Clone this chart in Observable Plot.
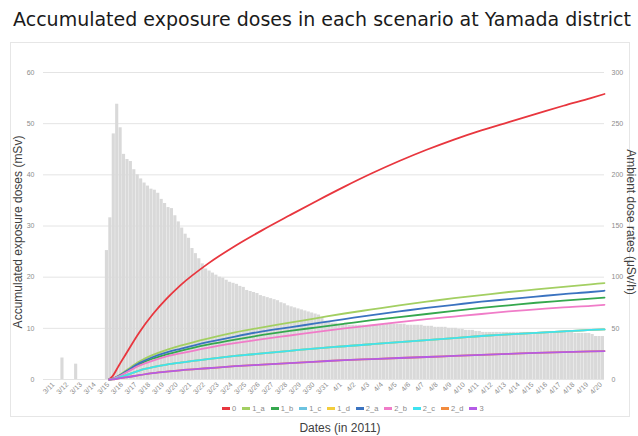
<!DOCTYPE html>
<html><head><meta charset="utf-8">
<script src="https://cdn.jsdelivr.net/npm/d3@7"></script>
<script src="https://cdn.jsdelivr.net/npm/@observablehq/plot@0.6"></script>
<style>
body{margin:0;background:#fff;font-family:"Liberation Sans",Arial,sans-serif;}
#wrap{position:relative;width:638px;height:436px;overflow:hidden}
#title{position:absolute;left:0;top:8px;width:644px;text-align:center;font:19px "DejaVu Sans";color:#1a1a1a;white-space:nowrap}
#panel{position:absolute;left:10px;top:42px;width:620px;height:375px;border:1px solid #e6e6e6;box-sizing:border-box}
#chart{position:absolute;left:0;top:40px}
.ylab{position:absolute;white-space:nowrap;font-size:12px;color:#404040}
#legend{position:absolute;left:222px;top:404px;display:flex;align-items:center;font-size:7.5px;color:#8a8a8a}
#legend .it{display:flex;align-items:center;margin-right:6px}
#legend .sw{display:inline-block;width:8px;height:2.5px;margin-right:2px}
#xlab{position:absolute;left:0;width:680px;text-align:center;top:421px;font-size:12px;color:#404040}
</style></head>
<body><div id="wrap">
<div id="title">Accumulated exposure doses in each scenario at Yamada district</div>
<div id="panel"></div>
<div id="chart"></div>
<div class="ylab" style="left:18px;top:232px;transform:translate(-50%,-50%) rotate(-90deg)">Accumulated exposure doses (mSv)</div>
<div class="ylab" style="left:631px;top:222px;transform:translate(-50%,-50%) rotate(90deg)">Ambient dose rates (μSv/h)</div>
<div id="legend"></div>
<div id="xlab">Dates (in 2011)</div>
</div>
<script>
// ---- data ----
const startDate = Date.UTC(2011, 2, 11);        // 3/11 00:00
const endDate = Date.UTC(2011, 3, 21);          // end of 4/20
const doseTicks = [0, 10, 20, 30, 40, 50, 60];
const rateTicks = [0, 50, 100, 150, 200, 250, 300];
const doseMax = 60, rateMax = 300;

// ambient dose rate (uSv/h), 6-hourly blocks from 3/11 00:00
const rateStepHours = 6;
const rates = [
  0,0,0,0,  0,21,0,0,  0,15,0,0,  0,0,0,0,  0,0,126,158,
  240,269,246,220,  215,213,205,200,  196,192,189,186,  185,182,176,172,
  168,167,160,154,  148,142,138,128,  123,118,113,108,  106,104,102,100,
  99,97,95,94,  93,91,90,87,  86,85,84,82,  81,80,79,78,
  77,75,74,72,  71,70,69,68,  67,66,65,64,  63,60,57,56,
  55,55,54,54,  54,53,53,53,  53,53,53,53,  53,53,53,53,
  54,54,54,54,  54,54,53,53,  53,53,53,52,  52,52,51,51,
  51,51,50,50,  50,49,49,48,  48,48,47,47,  46,46,46,46,
  46,46,46,46,  46,46,46,46,  46,46,46,46,  46,46,46,46,
  46,46,46,46,  46,46,46,45,  45,45,45,45,  44,42,42,42
];

// accumulated doses (mSv), days since 3/11 00:00
const doseDays = [4.8,5,5.5,6,7,8,9,10,12,14,16,18,20,22,24,26,28,30,32,34,36,38,40,41];
const scenarioNames = ["0","1_a","1_b","1_c","1_d","2_a","2_b","2_c","2_d","3"];
const scenarioColors = ["#e8363e","#a3cf62","#35a84e","#6cc3e0","#f3cd3c","#3b73c0","#f07cc8","#3ee2f0","#f28b3d","#b45be6"];
const dose0  = [0,0.5,2.7,4.9,9.2,12.8,15.8,18.4,22.6,26.1,29.2,32.1,34.95,37.7,40.3,42.7,44.9,46.9,48.7,50.3,51.9,53.5,55.0,55.8];
const dose1a = [0,0.1,0.8,1.7,3.5,4.8,5.8,6.6,8.0,9.2,10.2,11.1,12.0,12.9,13.7,14.5,15.2,15.9,16.5,17.1,17.6,18.1,18.6,18.85];
const dose1b = [0,0.1,0.6,1.4,3.0,4.1,4.9,5.6,6.8,7.8,8.7,9.5,10.2,10.9,11.6,12.2,12.8,13.4,14.0,14.5,15.0,15.4,15.8,16.0];
const dose1c = [0,0.05,0.4,0.8,1.75,2.4,2.9,3.3,4.0,4.6,5.1,5.6,6.1,6.5,6.9,7.3,7.7,8.1,8.5,8.8,9.1,9.4,9.7,9.8];
const dose1d = [0,0.05,0.4,0.8,1.75,2.4,2.9,3.3,4.0,4.6,5.1,5.6,6.1,6.5,6.9,7.3,7.7,8.1,8.5,8.8,9.1,9.4,9.7,9.8];
const dose2a = [0,0.1,0.7,1.5,3.2,4.4,5.3,6.0,7.3,8.4,9.4,10.2,11.0,11.8,12.6,13.3,14.0,14.6,15.2,15.7,16.2,16.7,17.1,17.35];
const dose2b = [0,0.1,0.6,1.3,2.7,3.7,4.5,5.1,6.2,7.1,7.9,8.6,9.3,10.0,10.6,11.2,11.8,12.3,12.8,13.3,13.7,14.1,14.4,14.6];
const dose2c = [0,0.05,0.4,0.8,1.75,2.4,2.9,3.3,4.0,4.6,5.1,5.6,6.1,6.5,6.9,7.3,7.7,8.1,8.5,8.8,9.1,9.4,9.7,9.8];
const dose2d = [0,0.02,0.2,0.4,0.85,1.25,1.55,1.8,2.2,2.6,2.9,3.2,3.5,3.8,4.0,4.2,4.4,4.6,4.8,5.0,5.2,5.35,5.5,5.55];
const dose3  = [0,0.02,0.2,0.4,0.85,1.25,1.55,1.8,2.2,2.6,2.9,3.2,3.5,3.8,4.0,4.2,4.4,4.6,4.8,5.0,5.2,5.35,5.5,5.55];
const doseSeries = [dose0,dose1a,dose1b,dose1c,dose1d,dose2a,dose2b,dose2c,dose2d,dose3];

// ---- build tables ----
const DAY = 864e5, STEP = rateStepHours * 3600e3;
const rateRows = rates.map((v, i) => ({x1: new Date(startDate + i*STEP), x2: new Date(startDate + (i+1)*STEP), rate: v})).filter(d => d.rate > 0);
const lineRows = [];
doseSeries.forEach((arr, s) => arr.forEach((v, i) => lineRows.push({name: scenarioNames[s], t: new Date(startDate + doseDays[i]*DAY), v})));
const dayTicks = d3.utcDay.range(new Date(startDate), new Date(endDate));
const toDose = r => r * doseMax / rateMax;

const plot = Plot.plot({
  width: 638, height: 362,
  marginLeft: 43, marginRight: 34, marginTop: 32, marginBottom: 23,
  style: {fontFamily: "Liberation Sans, Arial, sans-serif", color: "#8c8c8c", background: "transparent"},
  x: {type: "utc", domain: [new Date(startDate), new Date(endDate)]},
  y: {domain: [0, doseMax]},
  color: {domain: scenarioNames, range: scenarioColors},
  marks: [
    Plot.gridY(doseTicks, {stroke: "#e4e4e4", strokeOpacity: 1, strokeWidth: 1}),
    Plot.rectY(rateRows, {x1: "x1", x2: "x2", y: d => toDose(d.rate), fill: "#d9d9d9", insetLeft: 0.3}),
    Plot.line(lineRows, {x: "t", y: "v", z: "name", stroke: "name", strokeWidth: 1.8, curve: "monotone-x"}),
    Plot.axisY(doseTicks, {anchor: "left", tickSize: 0, tickPadding: 9, fontSize: 7, label: null}),
    Plot.axisY(rateTicks.map(toDose), {anchor: "right", tickSize: 0, tickPadding: 7, fontSize: 7, label: null, tickFormat: d => Math.round(d * rateMax / doseMax)}),
    Plot.axisX(dayTicks, {tickSize: 0, tickPadding: 4, tickRotate: -45, fontSize: 7, dx: 10, label: null, tickFormat: d3.utcFormat("%-m/%-d")})
  ]
});
document.getElementById("chart").appendChild(plot);

const leg = document.getElementById("legend");
scenarioNames.forEach((n, i) => {
  const it = document.createElement("span"); it.className = "it";
  const sw = document.createElement("span"); sw.className = "sw"; sw.style.background = scenarioColors[i];
  it.appendChild(sw); it.appendChild(document.createTextNode(n)); leg.appendChild(it);
});
</script>
</body></html>
